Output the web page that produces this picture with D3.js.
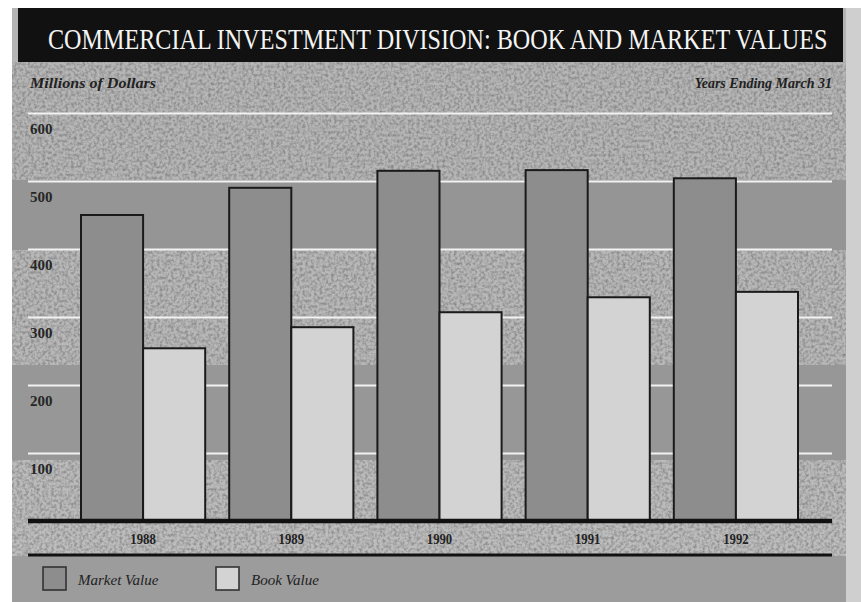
<!DOCTYPE html>
<html>
<head>
<meta charset="utf-8">
<script src="https://cdn.jsdelivr.net/npm/d3@7"></script>
<style>
  html, body { margin: 0; padding: 0; background: #ffffff; }
  svg { display: block; }
</style>
</head>
<body>
<svg id="chart" width="861" height="602"></svg>
<script>
// Commercial Investment Division, book and market values (millions of dollars)
const years = ["1988", "1989", "1990", "1991", "1992"];
const marketValue = [450, 490, 515, 516, 504];
const bookValue = [254, 285, 307, 329, 337];
const yTicks = [100, 200, 300, 400, 500, 600];
const seriesNames = ["Market Value", "Book Value"];
const seriesColors = ["#8d8d8d", "#d3d3d3"];

const svg = d3.select("#chart");
const W = 861, H = 602;

const serif = "'Liberation Serif', 'DejaVu Serif', serif";

// scales
const x = d3.scaleBand().domain(years).range([81, 798]).paddingInner(0.162).paddingOuter(0);
const xs = d3.scaleBand().domain(seriesNames).range([0, x.bandwidth()]).padding(0);
const y = d3.scaleLinear().domain([0, 600]).range([521, 113]);

// grain filter for the printed background
const defs = svg.append("defs");
const grain = defs.append("filter").attr("id", "grain").attr("x", 0).attr("y", 0).attr("width", 1).attr("height", 1);
grain.append("feTurbulence").attr("type", "fractalNoise").attr("baseFrequency", 0.35).attr("numOctaves", 2).attr("seed", 7).attr("result", "noise");
grain.append("feColorMatrix").attr("in", "noise").attr("type", "matrix")
  .attr("values", "0 0 0 0 0  0 0 0 0 0  0 0 0 0 0  0 0 0 -1.6 1.0").attr("result", "dots");
grain.append("feComposite").attr("in", "dots").attr("in2", "SourceGraphic").attr("operator", "in");

// panel background: bands of light and mid gray
const panel = svg.append("g");
panel.append("rect").attr("x", 12).attr("y", 0).attr("width", 834).attr("height", H).attr("fill", "#b4b4b4");
panel.append("rect").attr("x", 846).attr("y", 0).attr("width", 15).attr("height", H).attr("fill", "#cfcfcf");
panel.append("rect").attr("x", 0).attr("y", 0).attr("width", W).attr("height", 8).attr("fill", "#ffffff");

const bands = [
  { y0: 62, y1: 180, c: "#b6b6b6", g: true },
  { y0: 180, y1: 250, c: "#959595", g: false },
  { y0: 250, y1: 365, c: "#b8b8b8", g: true },
  { y0: 365, y1: 460, c: "#979797", g: false },
  { y0: 460, y1: 521, c: "#bbbbbb", g: true },
  { y0: 521, y1: 556, c: "#bdbdbd", g: true },
  { y0: 556, y1: 602, c: "#9c9c9c", g: false }
];
panel.selectAll("rect.band").data(bands).join("rect")
  .attr("class", "band")
  .attr("x", 12).attr("width", 834)
  .attr("y", d => d.y0).attr("height", d => d.y1 - d.y0)
  .attr("fill", d => d.c);
panel.selectAll("rect.grain").data(bands.filter(d => d.g)).join("rect")
  .attr("class", "grain")
  .attr("x", 12).attr("width", 834)
  .attr("y", d => d.y0).attr("height", d => d.y1 - d.y0)
  .attr("fill", "#6e6e6e").attr("opacity", 0.35)
  .attr("filter", "url(#grain)");

// title bar; the heading is squeezed horizontally to fit the bar
svg.append("rect").attr("x", 18).attr("y", 8).attr("width", 825).attr("height", 54).attr("fill", "#111111");
const title = svg.append("text")
  .attr("x", 0).attr("y", 0)
  .attr("font-family", serif).attr("font-size", 30).attr("fill", "#f4f4f4")
  .text("COMMERCIAL INVESTMENT DIVISION: BOOK AND MARKET VALUES");
const tw = title.node().getComputedTextLength();
title.attr("transform", `translate(48,49) scale(${780 / tw},1)`);

// subtitles
svg.append("text").attr("x", 30).attr("y", 88)
  .attr("font-family", serif).attr("font-style", "italic").attr("font-weight", "bold")
  .attr("font-size", 14).attr("fill", "#222")
  .attr("textLength", 126).attr("lengthAdjust", "spacingAndGlyphs")
  .text("Millions of Dollars");
svg.append("text").attr("x", 832).attr("y", 88).attr("text-anchor", "end")
  .attr("font-family", serif).attr("font-style", "italic").attr("font-weight", "bold")
  .attr("font-size", 14).attr("fill", "#222")
  .text("Years Ending March 31");

// horizontal gridlines with value labels under each line
const yAxis = d3.axisLeft(y).tickValues(yTicks).tickSize(0).tickFormat(d3.format("d"));
const gy = svg.append("g").call(yAxis);
gy.select(".domain").remove();
gy.selectAll(".tick line")
  .attr("x1", 28).attr("x2", 832)
  .attr("stroke", "#f2f2f2").attr("stroke-width", 2.2);
gy.selectAll(".tick text")
  .attr("x", 30).attr("dy", 20).attr("text-anchor", "start")
  .attr("font-family", serif).attr("font-size", 15).attr("font-weight", "bold")
  .attr("fill", "#262626");

// bars
const groups = svg.append("g").selectAll("g").data(years).join("g")
  .attr("transform", d => `translate(${x(d)},0)`);
groups.selectAll("rect").data((d, i) => [
  { s: seriesNames[0], v: marketValue[i], c: seriesColors[0] },
  { s: seriesNames[1], v: bookValue[i], c: seriesColors[1] }
]).join("rect")
  .attr("x", d => xs(d.s))
  .attr("y", d => y(d.v))
  .attr("width", xs.bandwidth())
  .attr("height", d => y(0) - y(d.v))
  .attr("fill", d => d.c)
  .attr("stroke", "#1a1a1a").attr("stroke-width", 2);

// baseline and year axis
svg.append("line").attr("x1", 28).attr("x2", 832).attr("y1", y(0)).attr("y2", y(0))
  .attr("stroke", "#111").attr("stroke-width", 4.5);
svg.append("line").attr("x1", 28).attr("x2", 832).attr("y1", 555).attr("y2", 555)
  .attr("stroke", "#111").attr("stroke-width", 3);

const xAxis = d3.axisBottom(x).tickSize(0).tickPadding(0);
const gx = svg.append("g").attr("transform", "translate(0,544)").call(xAxis);
gx.select(".domain").remove();
gx.selectAll(".tick text").attr("dy", 0)
  .attr("font-family", serif).attr("font-size", 15).attr("font-weight", "bold")
  .attr("fill", "#222")
  .attr("transform", "scale(0.85,1)")
  .attr("x", 0);
gx.selectAll(".tick").attr("transform", d => `translate(${x(d) + x.bandwidth() / 2},0)`);

// legend
const legend = svg.append("g").selectAll("g").data(seriesNames).join("g")
  .attr("transform", (d, i) => `translate(${[43, 216][i]},567)`);
legend.append("rect").attr("width", 23).attr("height", 23)
  .attr("fill", (d, i) => seriesColors[i])
  .attr("stroke", "#333").attr("stroke-width", 1.6);
legend.append("text").attr("x", 35).attr("y", 18)
  .attr("font-family", serif).attr("font-style", "italic")
  .attr("font-size", 15).attr("fill", "#222")
  .text(d => d);
</script>
</body>
</html>
